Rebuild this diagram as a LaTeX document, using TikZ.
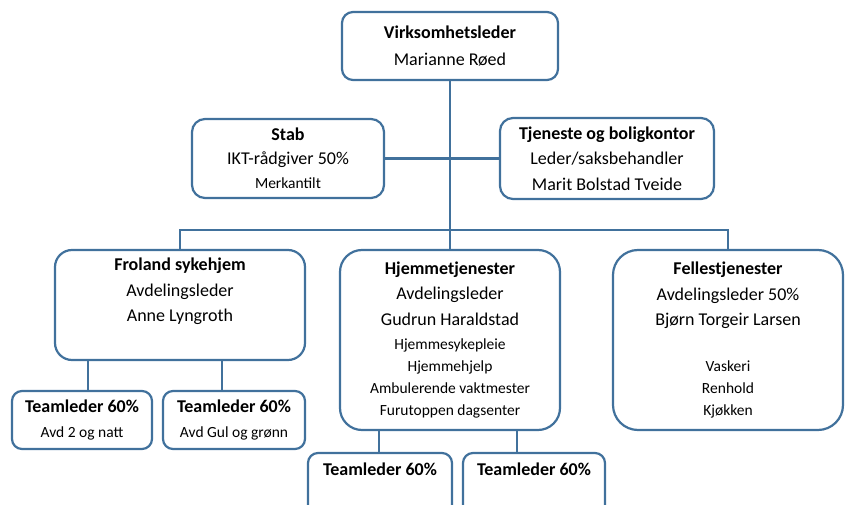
\documentclass[tikz,border=0pt]{standalone}
\usepackage{fontspec}
\setmainfont{Carlito}
\usetikzlibrary{positioning}
\definecolor{orgblue}{RGB}{65,113,156}
\newcommand{\lite}[1]{{\fontsize{15.5}{21}\selectfont #1}}

\begin{document}
\begin{tikzpicture}[x=1pt, y=-1pt,
	box/.style={draw=orgblue, line width=2.2pt, align=center, inner sep=0pt,
		rounded corners=#1, font=\fontsize{18}{25.5}\selectfont},
	box/.default=14pt,
	txt/.style={align=center, inner sep=0pt, font=\fontsize{18}{25.5}\selectfont},
	link/.style={draw=orgblue, line width=2.2pt}]
	\clip (0,0) rectangle (847,505);
	\node [box=11pt, minimum width=216pt, minimum height=68pt] (leder) at (450,46)
		{\textbf{Virksomhetsleder} \\[1.5pt] Marianne Røed};
	\node [box=13pt, minimum width=192pt, minimum height=79pt] (stab) at (288,158.5)
		{\textbf{Stab} \\[-2pt] IKT-rådgiver 50\% \\[-1pt] \lite{Merkantilt}};
	\node [box=13pt, minimum width=214pt, minimum height=81pt] (tjeneste) at (607,158.5)
		{\textbf{Tjeneste og boligkontor} \\ Leder/saksbehandler \\ Marit Bolstad Tveide};
	\node [box=17pt, minimum width=250pt, minimum height=110pt] (froland) at (180,305) {};
	\node [txt, below=9pt of froland.north] (froland-txt)
		{\textbf{Froland sykehjem} \\ Avdelingsleder \\ Anne Lyngroth};
	\node [box=22pt, minimum width=220pt, minimum height=180pt] (hjem) at (450,340)
		{\textbf{Hjemmetjenester} \\ Avdelingsleder \\ Gudrun Haraldstad \\[-1.5pt]
		\lite{Hjemmesykepleie} \\[-3.5pt] \lite{Hjemmehjelp} \\[-3.5pt]
		\lite{Ambulerende vaktmester} \\[-3.5pt] \lite{Furutoppen dagsenter}};
	\node [box=25pt, minimum width=230pt, minimum height=180pt] (felles) at (728,340)
		{\textbf{Fellestjenester} \\ Avdelingsleder 50\% \\ Bjørn Torgeir Larsen \\[20pt]
		\lite{Vaskeri} \\[-3.5pt] \lite{Renhold} \\[-3.5pt] \lite{Kjøkken}};
	\node [box=10pt, minimum width=140pt, minimum height=58pt] (team1) at (82,420)
		{\textbf{Teamleder 60\%} \\[-1pt] \lite{Avd 2 og natt}};
	\node [box=10pt, minimum width=142pt, minimum height=58pt] (team2) at (234,420)
		{\textbf{Teamleder 60\%} \\[-1pt] \lite{Avd Gul og grønn}};
	\node [box=10pt, minimum width=144pt, minimum height=76pt] (team3) at (380,491) {};
	\node [txt, below=11pt of team3.north] (team3-txt) {\textbf{Teamleder 60\%}};
	\node [box=10pt, minimum width=142pt, minimum height=76pt] (team4) at (534,491) {};
	\node [txt, below=11pt of team4.north] (team4-txt) {\textbf{Teamleder 60\%}};
	\coordinate (bus) at (450,230);

	\draw [link] (leder) -- (hjem);
	\draw [link] (stab) -- (stab -| leder);
	\draw [link] (tjeneste) -- (tjeneste -| leder);
	\draw [link] (froland) |- (bus) -| (felles);
	\draw [link] ([xshift=-92pt]froland.south) coordinate (f1) -- (f1 |- team1.north);
	\draw [link] ([xshift=42pt]froland.south) coordinate (f2) -- (f2 |- team2.north);
	\draw [link] ([xshift=-71pt]hjem.south) coordinate (h1) -- (h1 |- team3.north);
	\draw [link] ([xshift=67pt]hjem.south) coordinate (h2) -- (h2 |- team4.north);
\end{tikzpicture}
\end{document}
